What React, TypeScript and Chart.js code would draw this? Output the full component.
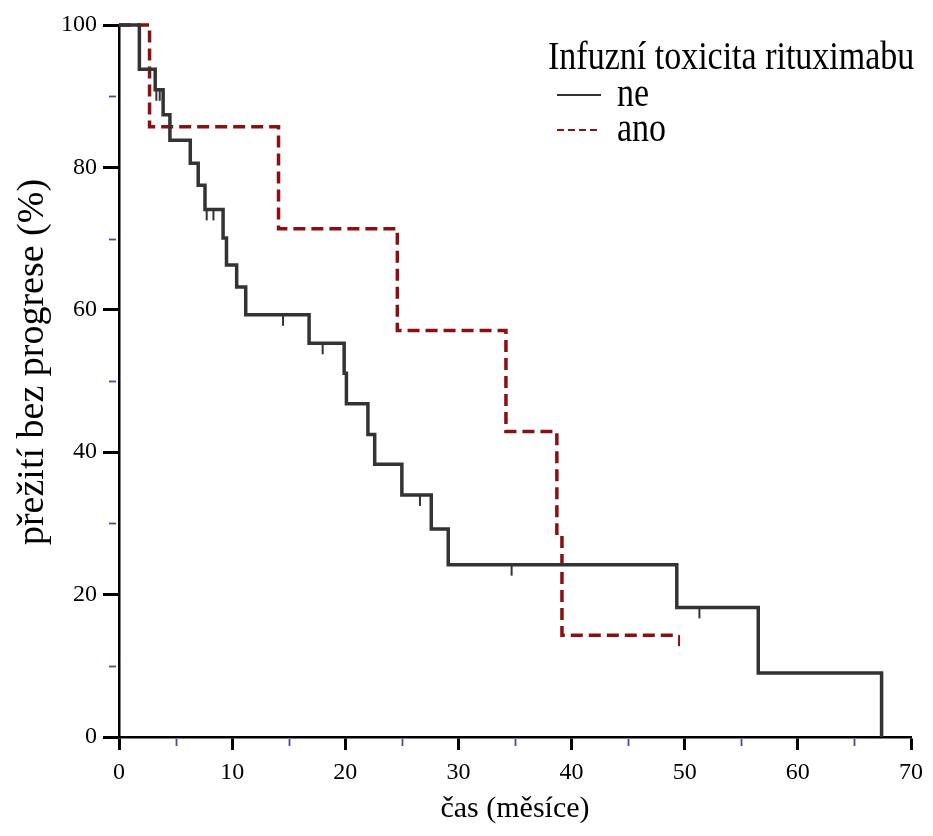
import { useEffect, useRef } from 'react';
import { Chart, registerables } from 'chart.js';

Chart.register(...registerables);

const legendTitle = 'Infuzní toxicita rituximabu';
const xAxisTitle = 'čas (měsíce)';
const yAxisTitle = 'přežití bez progrese (%)';
const seriesLabels = ['ne', 'ano'];

// "ne" group (black, solid): Kaplan–Meier steps (time in months, survival in %)
const neTimes = [0, 1.8, 3.2, 3.9, 4.5, 6.3, 7.0, 7.6, 9.2, 9.5, 10.4, 11.2, 16.8, 19.9, 20.1, 22.0, 22.6, 25.0, 27.6, 29.1, 49.3, 56.5, 67.4];
const neSurvival = [100, 93.8, 90.9, 87.4, 83.8, 80.6, 77.5, 74.1, 70.1, 66.3, 63.2, 59.3, 55.3, 51.1, 46.8, 42.5, 38.3, 34.0, 29.2, 24.2, 18.2, 9.0, 0];
const neCensorTimes = [3.3, 3.6, 7.75, 8.35, 14.5, 18.0, 26.6, 34.7, 51.3];
const neCensorSurvival = [90.9, 90.9, 74.1, 74.1, 59.3, 55.3, 34.0, 24.2, 18.2];

// "ano" group (dark red, dashed)
const anoTimes = [0, 2.7, 14.1, 24.6, 34.2, 38.7, 39.15, 49.5];
const anoSurvival = [100, 85.7, 71.4, 57.1, 42.9, 28.6, 14.3, 14.3];
const anoCensorTimes = [49.5];
const anoCensorSurvival = [14.3];

const xMin = 0, xMax = 70, xStep = 5, xLabelEvery = 10;
const yMin = 0, yMax = 100, yStep = 10, yLabelEvery = 20;

const FONT = "'Liberation Serif', 'Times New Roman', serif";
const BLACK = '#333333';
const RED = '#8b1010';
const MINOR = '#4b4b9c';

const extrasPlugin = {
  id: 'kmExtras',
  afterDatasetsDraw(chart: any) {
    const { ctx, scales } = chart;
    const x = scales.x, y = scales.y;
    ctx.save();
    // minor ticks
    ctx.strokeStyle = MINOR;
    ctx.lineWidth = 1.8;
    x.ticks.forEach((t: any) => {
      if (t.value % xLabelEvery !== 0) {
        const px = Math.round(x.getPixelForValue(t.value)) + 0.5;
        ctx.beginPath();
        ctx.moveTo(px, y.bottom + 2);
        ctx.lineTo(px, y.bottom + 9);
        ctx.stroke();
      }
    });
    y.ticks.forEach((t: any) => {
      if (t.value % yLabelEvery !== 0) {
        const py = Math.round(y.getPixelForValue(t.value)) + 0.5;
        ctx.beginPath();
        ctx.moveTo(x.left - 10, py);
        ctx.lineTo(x.left - 3, py);
        ctx.stroke();
      }
    });
    // censor marks
    chart.data.datasets.forEach((ds: any) => {
      const ct: number[] = ds.censorTimes || [];
      const cs: number[] = ds.censorSurvival || [];
      ctx.strokeStyle = ds.borderColor;
      ctx.lineWidth = 2;
      ctx.setLineDash([]);
      ct.forEach((t, i) => {
        const px = x.getPixelForValue(t);
        const py = y.getPixelForValue(cs[i]);
        ctx.beginPath();
        ctx.moveTo(px, py);
        ctx.lineTo(px, py + 11);
        ctx.stroke();
      });
    });
    ctx.restore();
  },
  afterDraw(chart: any) {
    const { ctx } = chart;
    const sx = 0.85;
    ctx.save();
    ctx.fillStyle = '#000';
    ctx.textBaseline = 'middle';
    ctx.textAlign = 'left';
    ctx.font = `40px ${FONT}`;
    ctx.save();
    ctx.scale(sx, 1);
    ctx.fillText(legendTitle, 548 / sx, 58);
    ctx.restore();
    chart.data.datasets.forEach((ds: any, i: number) => {
      const cy = 95 + i * 35;
      ctx.strokeStyle = ds.borderColor;
      ctx.lineWidth = 2;
      ctx.setLineDash(ds.borderDash && ds.borderDash.length ? [7, 4] : []);
      ctx.beginPath();
      ctx.moveTo(557, cy);
      ctx.lineTo(601, cy);
      ctx.stroke();
      ctx.setLineDash([]);
      ctx.fillStyle = '#000';
      ctx.save();
      ctx.scale(sx, 1);
      ctx.fillText(ds.label, 617 / sx, cy);
      ctx.restore();
    });
    ctx.restore();
  },
};

export default function App() {
  const ref = useRef<HTMLCanvasElement>(null);
  useEffect(() => {
    if (!ref.current) return;
    const chart = new Chart(ref.current, {
      type: 'line',
      data: {
        datasets: [
          {
            label: seriesLabels[0],
            data: neTimes.map((t, i) => ({ x: t, y: neSurvival[i] })),
            borderColor: BLACK,
            borderWidth: 3.5,
            stepped: 'before',
            pointRadius: 0,
            fill: false,
            clip: false,
            censorTimes: neCensorTimes,
            censorSurvival: neCensorSurvival,
          } as any,
          {
            label: seriesLabels[1],
            data: anoTimes.map((t, i) => ({ x: t, y: anoSurvival[i] })),
            borderColor: RED,
            borderWidth: 3.5,
            borderDash: [12, 6],
            stepped: 'before',
            pointRadius: 0,
            fill: false,
            clip: false,
            censorTimes: anoCensorTimes,
            censorSurvival: anoCensorSurvival,
          } as any,
        ],
      },
      options: {
        animation: false,
        responsive: false,
        events: [],
        layout: { padding: { left: 0, right: 22, top: 25, bottom: 0 } },
        plugins: { legend: { display: false }, tooltip: { enabled: false } },
        scales: {
          x: {
            type: 'linear',
            min: xMin,
            max: xMax,
            afterFit: (s: any) => { s.height = 99; },
            border: { display: true, color: '#000', width: 2.5 },
            grid: {
              display: true,
              drawOnChartArea: false,
              drawTicks: true,
              tickLength: 13,
              tickColor: (c: any) => (c.tick && c.tick.value % xLabelEvery === 0 ? '#000' : 'rgba(0,0,0,0)'),
              tickWidth: 3,
            },
            ticks: {
              stepSize: xStep,
              autoSkip: false,
              maxRotation: 0,
              padding: 8,
              color: '#000',
              font: { family: FONT, size: 24 },
              callback: (v: any) => (Number(v) % xLabelEvery === 0 ? String(v) : ''),
            },
            title: {
              display: true,
              text: xAxisTitle,
              color: '#000',
              font: { family: FONT, size: 30 },
              padding: { top: 0, bottom: 9 },
            },
          },
          y: {
            type: 'linear',
            min: yMin,
            max: yMax,
            afterFit: (s: any) => { s.width = 119; },
            border: { display: true, color: '#000', width: 2.5 },
            grid: {
              display: true,
              drawOnChartArea: false,
              drawTicks: true,
              tickLength: 16,
              tickColor: (c: any) => (c.tick && c.tick.value % yLabelEvery === 0 ? '#000' : 'rgba(0,0,0,0)'),
              tickWidth: 3,
            },
            ticks: {
              stepSize: yStep,
              autoSkip: false,
              padding: 6,
              color: '#000',
              font: { family: FONT, size: 24 },
              callback: (v: any) => (Number(v) % yLabelEvery === 0 ? String(v) : ''),
            },
            title: {
              display: true,
              text: '    ' + yAxisTitle,
              color: '#000',
              font: { family: FONT, size: 38 },
              padding: { top: 10, bottom: 0 },
            },
          },
        },
      },
      plugins: [extrasPlugin],
    });
    return () => chart.destroy();
  }, []);
  return (
    <div style={{ position: 'absolute', left: 0, top: 0, width: 933, height: 836, background: '#fff' }}>
      <canvas ref={ref} width={933} height={836} />
    </div>
  );
}
